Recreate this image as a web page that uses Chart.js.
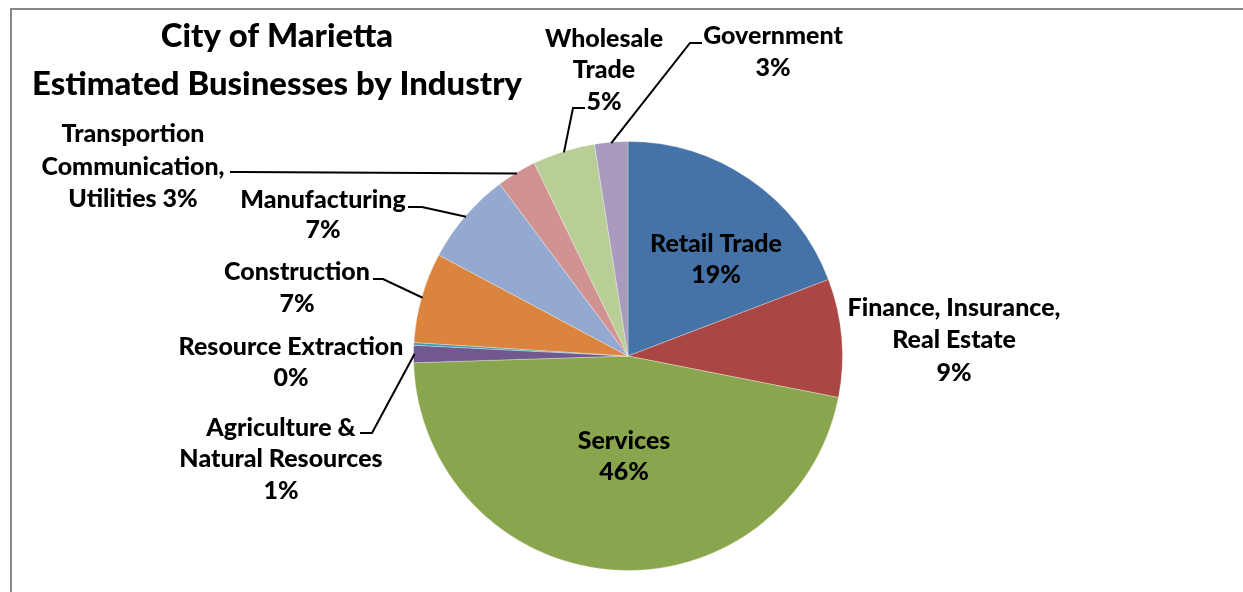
<!DOCTYPE html>
<html>
<head>
<meta charset="utf-8">
<script src="https://cdn.jsdelivr.net/npm/chart.js@4/dist/chart.umd.min.js"></script>
<style>
  html, body { margin: 0; padding: 0; background: #ffffff; overflow: hidden; }
  #wrap { position: relative; width: 1243px; height: 592px; }
  #frame { position: absolute; left: 10px; top: 8px; width: 1260px; height: 620px;
           border-left: 2px solid #878787; border-top: 2px solid #878787; box-sizing: border-box; }
  canvas { position: absolute; left: 0; top: 0; }
</style>
</head>
<body>
<div id="wrap">
  <div id="frame"></div>
  <canvas id="c" width="1243" height="592"></canvas>
</div>
<script>
// ---- data ----
const titleLines = ['City of Marietta', 'Estimated Businesses by Industry'];
const categories = [
  'Retail Trade',
  'Finance, Insurance, Real Estate',
  'Services',
  'Agriculture & Natural Resources',
  'Resource Extraction',
  'Construction',
  'Manufacturing',
  'Transportion Communication, Utilities',
  'Wholesale Trade',
  'Government'
];
const values = [19.2, 8.9, 46.4, 1.3, 0.2, 6.8, 7.0, 3.0, 4.7, 2.5];
const colors = ['#4572A7', '#AA4643', '#89A54E', '#71588F', '#4198AF',
                '#DB843D', '#93A9CF', '#D19392', '#B9CD96', '#A99BBD'];

// ---- label layout (text lines, centre x, baselines, leader elbow/end) ----
const labelLayout = [
  { lines: ['Retail Trade', '{p}'], x: 716, y: [252, 283] },
  { lines: ['Finance, Insurance,', 'Real Estate', '{p}'], x: 954, y: [316, 348, 381] },
  { lines: ['Services', '{p}'], x: 624, y: [449, 480] },
  { lines: ['Agriculture &', 'Natural Resources', '{p}'], x: 281, y: [436, 467, 499],
    leader: [[372, 433], [360, 433]] },
  { lines: ['Resource Extraction', '{p}'], x: 291, y: [355, 386] },
  { lines: ['Construction', '{p}'], x: 297, y: [280, 312],
    leader: [[383, 279], [373, 279]] },
  { lines: ['Manufacturing', '{p}'], x: 323, y: [208, 238],
    leader: [[422, 207], [408, 207]] },
  { lines: ['Transportion', 'Communication,', 'Utilities {p}'], x: 133, y: [142, 175, 207],
    leader: [[242, 172], [230, 172]] },
  { lines: ['Wholesale', 'Trade', '{p}'], x: 604, y: [47, 78, 110],
    leader: [[573, 108], [585, 108]] },
  { lines: ['Government', '{p}'], x: 773, y: [44, 76],
    leader: [[690, 43], [702, 43]] }
];

const FONT_FAMILY = 'Lato, "Open Sans", "Liberation Sans", sans-serif';
const FONT_WEIGHT = '900';

function fitSize(text, targetWidth, ctx) {
  ctx.font = FONT_WEIGHT + ' 100px ' + FONT_FAMILY;
  return 100 * targetWidth / ctx.measureText(text).width;
}

const labelsPlugin = {
  id: 'excelLabels',
  afterDatasetsDraw(chart) {
    const ctx = chart.ctx;
    const meta = chart.getDatasetMeta(0);
    const total = values.reduce((a, b) => a + b, 0);
    const labelSize = fitSize('Retail Trade', 132, ctx);
    const titleSize = fitSize('Estimated Businesses by Industry', 490, ctx);

    ctx.save();
    // leader lines
    ctx.strokeStyle = '#000000';
    ctx.lineWidth = 2;
    ctx.lineJoin = 'miter';
    labelLayout.forEach((lay, i) => {
      if (!lay.leader) return;
      const arc = meta.data[i];
      const mid = (arc.startAngle + arc.endAngle) / 2;
      const r = arc.outerRadius - 1;
      const px = arc.x + Math.cos(mid) * r;
      const py = arc.y + Math.sin(mid) * r;
      ctx.beginPath();
      ctx.moveTo(px, py);
      lay.leader.forEach(p => ctx.lineTo(p[0], p[1]));
      ctx.stroke();
    });

    // labels
    ctx.fillStyle = '#000000';
    ctx.textAlign = 'center';
    ctx.textBaseline = 'alphabetic';
    ctx.font = FONT_WEIGHT + ' ' + labelSize.toFixed(2) + 'px ' + FONT_FAMILY;
    labelLayout.forEach((lay, i) => {
      const pct = Math.round(values[i] / total * 100) + '%';
      lay.lines.forEach((ln, k) => {
        ctx.fillText(ln.replace('{p}', pct), lay.x, lay.y[k]);
      });
    });

    // title
    ctx.font = FONT_WEIGHT + ' ' + titleSize.toFixed(2) + 'px ' + FONT_FAMILY;
    ctx.fillText(titleLines[0], 277, 47);
    ctx.fillText(titleLines[1], 277, 95);
    ctx.restore();
  }
};

new Chart(document.getElementById('c'), {
  type: 'pie',
  data: {
    labels: categories,
    datasets: [{
      data: values,
      backgroundColor: colors,
      borderColor: 'rgba(255,255,255,0.3)',
      borderWidth: 1
    }]
  },
  options: {
    responsive: false,
    animation: false,
    layout: { padding: { top: 141, bottom: 21, left: 413, right: 400 } },
    plugins: {
      legend: { display: false },
      tooltip: { enabled: false },
      title: { display: false }
    }
  },
  plugins: [labelsPlugin]
});
</script>
</body>
</html>
